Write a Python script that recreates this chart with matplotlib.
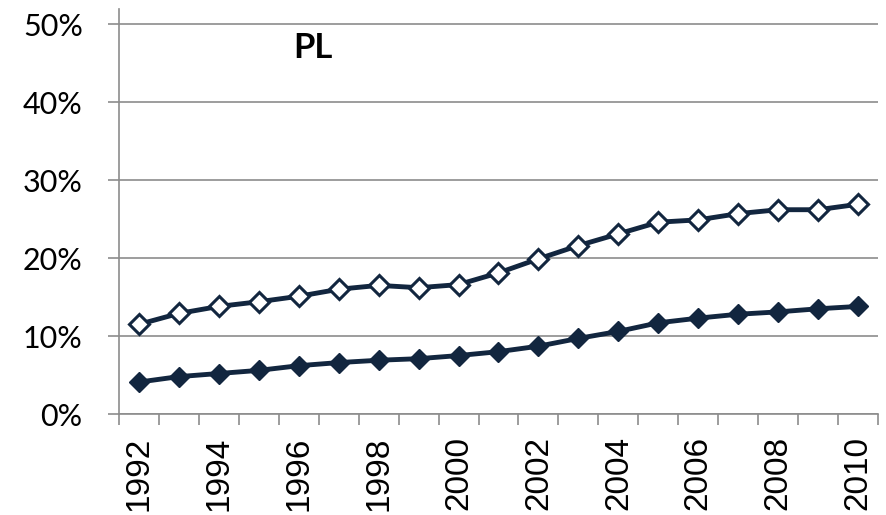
import matplotlib.pyplot as plt
from matplotlib.ticker import FixedLocator, PercentFormatter

# Data
years = list(range(1992, 2011))
open_series = [11.5, 12.9, 13.8, 14.4, 15.1, 16.0, 16.5, 16.2, 16.6, 18.1,
               19.9, 21.6, 23.1, 24.6, 24.9, 25.7, 26.2, 26.2, 26.9]
filled_series = [4.1, 4.8, 5.2, 5.6, 6.2, 6.6, 6.9, 7.1, 7.5, 8.0,
                 8.7, 9.7, 10.6, 11.7, 12.3, 12.8, 13.1, 13.5, 13.8]
y_ticks = [0, 10, 20, 30, 40, 50]
label_years = years[::2]

navy = '#12263f'
grey = '#8c8c8c'

fig = plt.figure(figsize=(8.87, 5.15), dpi=100)
ax = fig.add_axes([0.134, 0.196, 0.856, 0.786])

x = list(range(len(years)))
ax.plot(x, open_series, color=navy, lw=3.5, marker='D', ms=10.5,
        mfc='white', mec=navy, mew=2.2, zorder=3)
ax.plot(x, filled_series, color=navy, lw=3.5, marker='D', ms=10.5,
        mfc=navy, mec=navy, zorder=3)

ax.set_xlim(-0.5, len(years) - 0.5)
ax.set_ylim(0, 51.9)

# y axis
ax.yaxis.set_major_locator(FixedLocator(y_ticks))
ax.yaxis.set_major_formatter(PercentFormatter(decimals=0))
ax.grid(axis='y', color=grey, lw=1.2)
ax.set_axisbelow(True)
ax.tick_params(axis='y', length=8, width=1.2, color=grey, pad=18,
               labelsize=22)
for lab in ax.get_yticklabels():
    lab.set_fontfamily('Lato')

# x axis: boundaries as minor ticks, labels on category centres
ax.xaxis.set_minor_locator(FixedLocator([i - 0.5 for i in range(len(years) + 1)]))
ax.set_xticks([years.index(y) for y in label_years])
ax.set_xticklabels([str(y) for y in label_years], rotation=90,
                   fontfamily='Liberation Sans', fontsize=24)
ax.tick_params(axis='x', which='major', length=0, pad=16)
ax.tick_params(axis='x', which='minor', length=8, width=1.2, color=grey)

for s in ['top', 'right']:
    ax.spines[s].set_visible(False)
for s in ['left', 'bottom']:
    ax.spines[s].set_color(grey)
    ax.spines[s].set_linewidth(1.2)

ax.text(0.256, 0.904, 'PL', transform=ax.transAxes, ha='center', va='center',
        fontsize=25, fontweight='bold', fontfamily='Lato')

fig.savefig('out.png', dpi=100)
